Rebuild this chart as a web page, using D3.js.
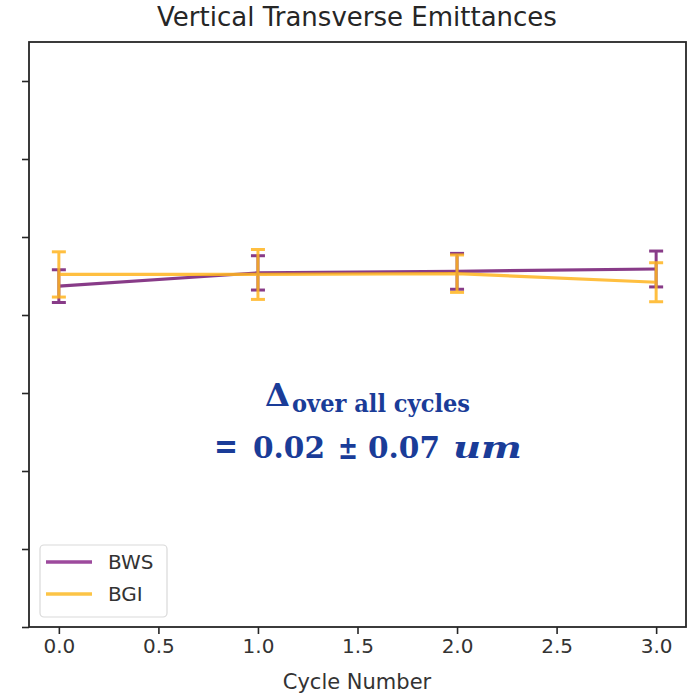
<!DOCTYPE html>
<html>
<head>
<meta charset="utf-8">
<script src="https://cdn.jsdelivr.net/npm/d3@7"></script>
<style>
  body { margin: 0; background: #fff; }
  svg { display: block; }
</style>
</head>
<body>
<svg id="chart" width="700" height="693"></svg>
<script>
// Cycle numbers and emittance measurements per instrument
const cycles = [0, 1, 2, 3];
const bwsValues = [4.37, 4.54, 4.56, 4.59];
const bwsErrors = [0.21, 0.22, 0.23, 0.23];
const bgiValues = [4.52, 4.52, 4.53, 4.42];
const bgiErrors = [0.29, 0.32, 0.24, 0.25];
const xTicks = [0, 0.5, 1, 1.5, 2, 2.5, 3];
const yTicks = [0, 1, 2, 3, 4, 5, 6, 7];
const seriesNames = ["BWS", "BGI"];

const plot = { left: 29, right: 686, top: 42, bottom: 627 };

const svg = d3.select("#chart");

const x = d3.scaleLinear().domain([-0.15, 3.15]).range([plot.left, plot.right]);
const y = d3.scaleLinear().domain([0, 7.5]).range([plot.bottom, plot.top]);

const fontSans = "'DejaVu Sans', sans-serif";
const axisColor = "#262626";

// Axes
const xAxis = svg.append("g")
  .attr("transform", `translate(0,${plot.bottom})`)
  .call(d3.axisBottom(x).tickValues(xTicks).tickFormat(d3.format(".1f")).tickSizeOuter(0).tickSize(7).tickPadding(5));
xAxis.select(".domain").remove();
xAxis.selectAll("line").attr("stroke", axisColor).attr("stroke-width", 1.6);
xAxis.selectAll("text").attr("font-family", fontSans).attr("font-size", 20).attr("fill", "#333");

const yAxis = svg.append("g")
  .attr("transform", `translate(${plot.left},0)`)
  .call(d3.axisLeft(y).tickValues(yTicks).tickFormat("").tickSizeOuter(0).tickSize(7));
yAxis.select(".domain").remove();
yAxis.selectAll("line").attr("stroke", axisColor).attr("stroke-width", 1.6);

// Frame
svg.append("rect")
  .attr("x", plot.left).attr("y", plot.top)
  .attr("width", plot.right - plot.left).attr("height", plot.bottom - plot.top)
  .attr("fill", "none").attr("stroke", axisColor).attr("stroke-width", 1.8);

// Series
const series = [
  { name: seriesNames[0], values: bwsValues, errors: bwsErrors, color: "#741a74", legend: "#9d4a9d" },
  { name: seriesNames[1], values: bgiValues, errors: bgiErrors, color: "#ffb51f", legend: "#fcc446" }
];

const line = d3.line().x(d => x(d.c)).y(d => y(d.v));
const capHalf = 7;

series.forEach(s => {
  const pts = cycles.map((c, i) => ({ c, v: s.values[i], e: s.errors[i] }));
  const g = svg.append("g").attr("opacity", 0.85);
  g.append("path").datum(pts)
    .attr("d", line).attr("fill", "none")
    .attr("stroke", s.color).attr("stroke-width", 3.2);
  g.selectAll(".bar").data(pts).enter().append("line")
    .attr("x1", d => x(d.c)).attr("x2", d => x(d.c))
    .attr("y1", d => y(d.v - d.e)).attr("y2", d => y(d.v + d.e))
    .attr("stroke", s.color).attr("stroke-width", 3);
  ["lo", "hi"].forEach(k => {
    g.selectAll(".cap-" + k).data(pts).enter().append("line")
      .attr("x1", d => x(d.c) - capHalf).attr("x2", d => x(d.c) + capHalf)
      .attr("y1", d => y(k === "lo" ? d.v - d.e : d.v + d.e))
      .attr("y2", d => y(k === "lo" ? d.v - d.e : d.v + d.e))
      .attr("stroke", s.color).attr("stroke-width", 3);
  });
});

// Legend
const lg = svg.append("g");
lg.append("rect")
  .attr("x", 40).attr("y", 545).attr("width", 127).attr("height", 72)
  .attr("rx", 4).attr("fill", "#fff").attr("fill-opacity", 0.8)
  .attr("stroke", "#d9d9d9").attr("stroke-width", 1.2);
series.forEach((s, i) => {
  const cy = 562 + i * 32;
  lg.append("line").attr("x1", 46).attr("x2", 92).attr("y1", cy).attr("y2", cy)
    .attr("stroke", s.legend).attr("stroke-width", 3.5);
  lg.append("text").attr("x", 108).attr("y", cy + 7)
    .attr("font-family", fontSans).attr("font-size", 20).attr("fill", "#333")
    .text(s.name);
});

// Title and axis label
svg.append("text").attr("x", 357).attr("y", 26)
  .attr("text-anchor", "middle").attr("font-family", fontSans).attr("font-size", 26)
  .attr("fill", "#262626").text("Vertical Transverse Emittances");
svg.append("text").attr("x", 357).attr("y", 689)
  .attr("text-anchor", "middle").attr("font-family", fontSans).attr("font-size", 21)
  .attr("fill", "#333").text("Cycle Number");

// Annotation: mean difference between instruments
const noteColor = "#1a3c98";
const serif = "'DejaVu Serif', serif";
const note = svg.append("g").attr("fill", noteColor).attr("font-family", serif).attr("font-weight", "bold");
const noteParts = [
  { t: "Δ", x: 265, y: 406, size: 31, w: 25 },
  { t: "over all cycles", x: 292, y: 412, size: 24, w: 178 },
  { t: "=", x: 214, y: 458, size: 36, w: 24 },
  { t: "0.02", x: 253, y: 458, size: 29, w: 72 },
  { t: "±", x: 338, y: 459, size: 33, w: 20 },
  { t: "0.07", x: 368, y: 458, size: 29, w: 72 },
  { t: "um", x: 453, y: 458, size: 30, w: 69, italic: true }
];
noteParts.forEach(p => {
  note.append("text").attr("x", p.x).attr("y", p.y).attr("font-size", p.size)
    .attr("font-style", p.italic ? "italic" : "normal")
    .attr("textLength", p.w).attr("lengthAdjust", "spacingAndGlyphs")
    .text(p.t);
});
</script>
</body>
</html>
